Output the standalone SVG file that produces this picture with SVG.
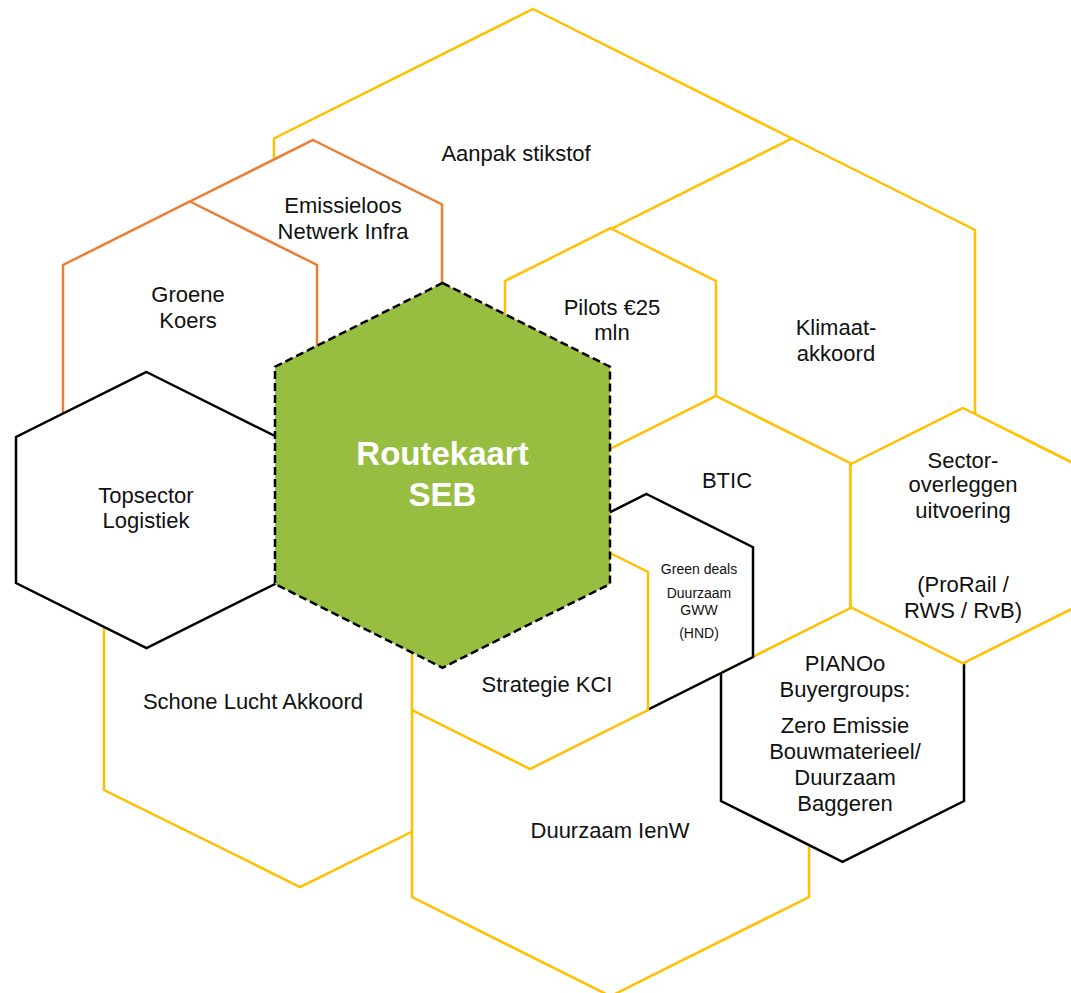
<svg xmlns="http://www.w3.org/2000/svg" width="1071" height="993" viewBox="0 0 1071 993">
<style>
.hex{fill:#fff;stroke-width:2.5;stroke-linejoin:miter}
.y{stroke:#FFC000}
.o{stroke:#ED7D31}
.k{stroke:#000}
.core{fill:#97BE41;stroke:#000;stroke-width:2.5;stroke-dasharray:8 4}
text{font-family:"Liberation Sans",Arial,sans-serif;font-size:22px;fill:#111;text-anchor:middle}
.sm{font-size:14px}
.big{font-size:33px;font-weight:bold;fill:#fff}
</style>
<rect width="1071" height="993" fill="#fff"/>
<g id="aanpak-stikstof">
<polygon class="hex y" points="533,9 792,138.5 792,250 533,379.5 274,250 274,138.5"/>
<text x="516" y="161">Aanpak stikstof</text>
</g>
<g id="klimaatakkoord">
<polygon class="hex y" points="792,138.5 975,230 975,460 792,551.5 609,460 609,230"/>
<text x="836" y="335">Klimaat-</text>
<text x="836" y="361">akkoord</text>
</g>
<g id="emissieloos-netwerk-infra">
<polygon class="hex o" points="313,140 442,204.5 442,330 313,394.5 184,330 184,204.5"/>
<text x="343" y="213">Emissieloos</text>
<text x="343" y="239">Netwerk Infra</text>
</g>
<g id="groene-koers">
<polygon class="hex o" points="190,201.5 317,265 317,420 190,483.5 63,420 63,265"/>
<text x="188" y="302">Groene</text>
<text x="188" y="328">Koers</text>
</g>
<g id="pilots">
<polygon class="hex y" points="610.5,228.25 716,281 716,396 610.5,448.75 505,396 505,281"/>
<text x="612" y="315">Pilots €25</text>
<text x="612" y="340">mln</text>
</g>
<g id="schone-lucht-akkoord">
<polygon class="hex y" points="300,496 496,594 496,790 300,887 104,790 104,594"/>
<text x="253" y="709">Schone Lucht Akkoord</text>
</g>
<g id="duurzaam-ienw">
<polygon class="hex y" points="610.5,600.75 809,700 809,897 610.5,996.25 412,897 412,700"/>
<text x="610" y="838">Duurzaam IenW</text>
</g>
<g id="pianoo-buyergroups">
<polygon class="hex k" points="842.5,602.25 964,663 964,801 842.5,861.75 721,801 721,663"/>
<text x="845" y="671">PIANOo</text>
<text x="845" y="697">Buyergroups:</text>
<text x="845" y="733">Zero Emissie</text>
<text x="845" y="759">Bouwmaterieel/</text>
<text x="845" y="785">Duurzaam</text>
<text x="845" y="811">Baggeren</text>
</g>
<g id="btic">
<polygon class="hex y" points="716,396 850.5,463.25 850.5,608 716,675.25 581.5,608 581.5,463.25"/>
<text x="727" y="488">BTIC</text>
</g>
<g id="sectoroverleggen">
<polygon class="hex y" points="963,408 1075.5,464.25 1075.5,607 963,663.25 850.5,607 850.5,464.25"/>
<text x="963" y="468">Sector-</text>
<text x="963" y="492">overleggen</text>
<text x="963" y="518">uitvoering</text>
<text x="963" y="592">(ProRail /</text>
<text x="963" y="618">RWS / RvB)</text>
</g>
<g id="green-deals">
<polygon class="hex k" points="646.5,494 753,547.25 753,657 646.5,710.25 540,657 540,547.25"/>
<text class="sm" x="699" y="574">Green deals</text>
<text class="sm" x="699" y="598">Duurzaam</text>
<text class="sm" x="699" y="615">GWW</text>
<text class="sm" x="699" y="638">(HND)</text>
</g>
<g id="strategie-kci">
<polygon class="hex y" points="530,513 648,572 648,710 530,769 412,710 412,572"/>
<text x="547" y="692">Strategie KCI</text>
</g>
<g id="topsector-logistiek">
<polygon class="hex k" points="146.5,372 277,437 277,583 146.5,648 16,583 16,437"/>
<text x="146" y="503">Topsector</text>
<text x="146" y="528">Logistiek</text>
</g>
<g id="routekaart-seb">
<polygon class="core" points="442.5,283 610,366.75 610,584 442.5,667.75 275,584 275,366.75"/>
<text class="big" x="442.5" y="465">Routekaart</text>
<text class="big" x="442.5" y="506">SEB</text>
</g>
</svg>
